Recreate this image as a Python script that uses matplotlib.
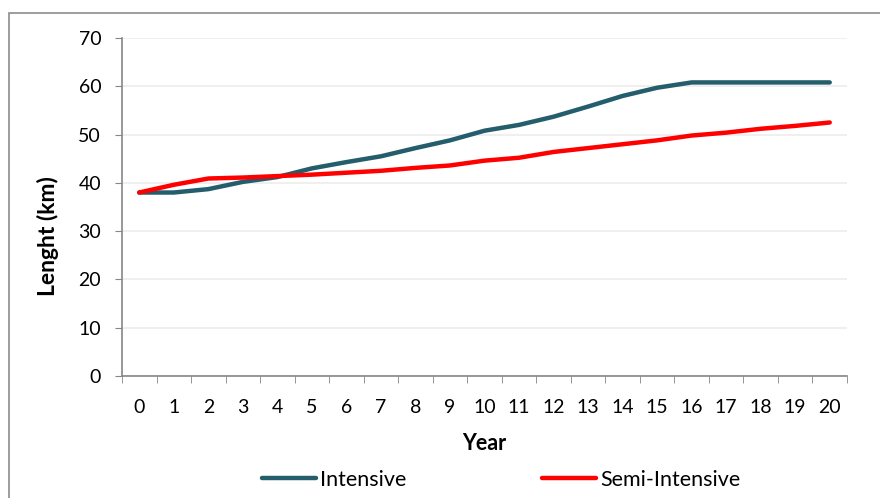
import matplotlib
matplotlib.use('Agg')
import matplotlib.pyplot as plt
from matplotlib.patches import Rectangle
from matplotlib.ticker import MultipleLocator

# data
years = list(range(0, 21))
intensive = [38.0, 38.0, 38.7, 40.2, 41.2, 43.0, 44.3, 45.5, 47.2, 48.8, 50.8,
             52.0, 53.7, 55.8, 58.0, 59.7, 60.8, 60.8, 60.8, 60.8, 60.8]
semi_intensive = [38.0, 39.6, 40.9, 41.1, 41.4, 41.7, 42.1, 42.5, 43.1, 43.6, 44.6,
                  45.2, 46.4, 47.2, 48.0, 48.8, 49.8, 50.4, 51.2, 51.8, 52.5]
series_names = ['Intensive', 'Semi-Intensive']
y_ticks = [0, 10, 20, 30, 40, 50, 60, 70]

plt.rcParams['font.family'] = ['Lato', 'DejaVu Sans']
TEAL = '#245d6b'
RED = '#ff0000'
AXCOL = '#868686'

W, H = 880, 498
fig = plt.figure(figsize=(W / 100, H / 100), dpi=100)
ax = fig.add_axes([122 / W, (H - 376) / H, (847 - 122) / W, (376 - 38) / H])

ax.plot(years, intensive, color=TEAL, lw=3.2, solid_capstyle='round', label=series_names[0])
ax.plot(years, semi_intensive, color=RED, lw=3.2, solid_capstyle='round', label=series_names[1])

ax.set_xlim(-0.5, 20.5)
ax.set_ylim(0, 70)
ax.set_yticks(y_ticks)
ax.set_xticks(years)
ax.xaxis.set_minor_locator(MultipleLocator(1, offset=0.5))
ax.tick_params(axis='x', which='major', length=0, pad=16.5, labelsize=14)
ax.tick_params(axis='x', which='minor', length=5, color=AXCOL, direction='out')
ax.tick_params(axis='y', length=5, color=AXCOL, pad=10, labelsize=14)

ax.grid(axis='y', color='#ececec', lw=1.2)
ax.set_axisbelow(True)
for s in ['top', 'right']:
    ax.spines[s].set_visible(False)
for s in ['left', 'bottom']:
    ax.spines[s].set_color(AXCOL)
    ax.spines[s].set_linewidth(1.2)

ax.set_ylabel('Lenght (km)', fontsize=16.5, fontweight='bold', labelpad=14)
ax.yaxis.label.set_y(0.414)   # excel puts the title a bit below the middle
ax.set_xlabel('Year', fontsize=15.5, fontweight='bold', labelpad=12)

leg = ax.legend(loc='center', bbox_to_anchor=(0.523, (376 - 480) / (376 - 38)),
                ncol=2, frameon=False, fontsize=15.5, handlelength=2.5,
                handletextpad=0.2, columnspacing=6.3)

# outer chart border (cut at right/bottom edges like the reference)
fig.add_artist(Rectangle((9 / W, -0.1), 2, (H - 13) / H + 0.1, transform=fig.transFigure,
                         fill=False, edgecolor='#8c8c8c', lw=1.2))

fig.savefig('out.png', dpi=100)
